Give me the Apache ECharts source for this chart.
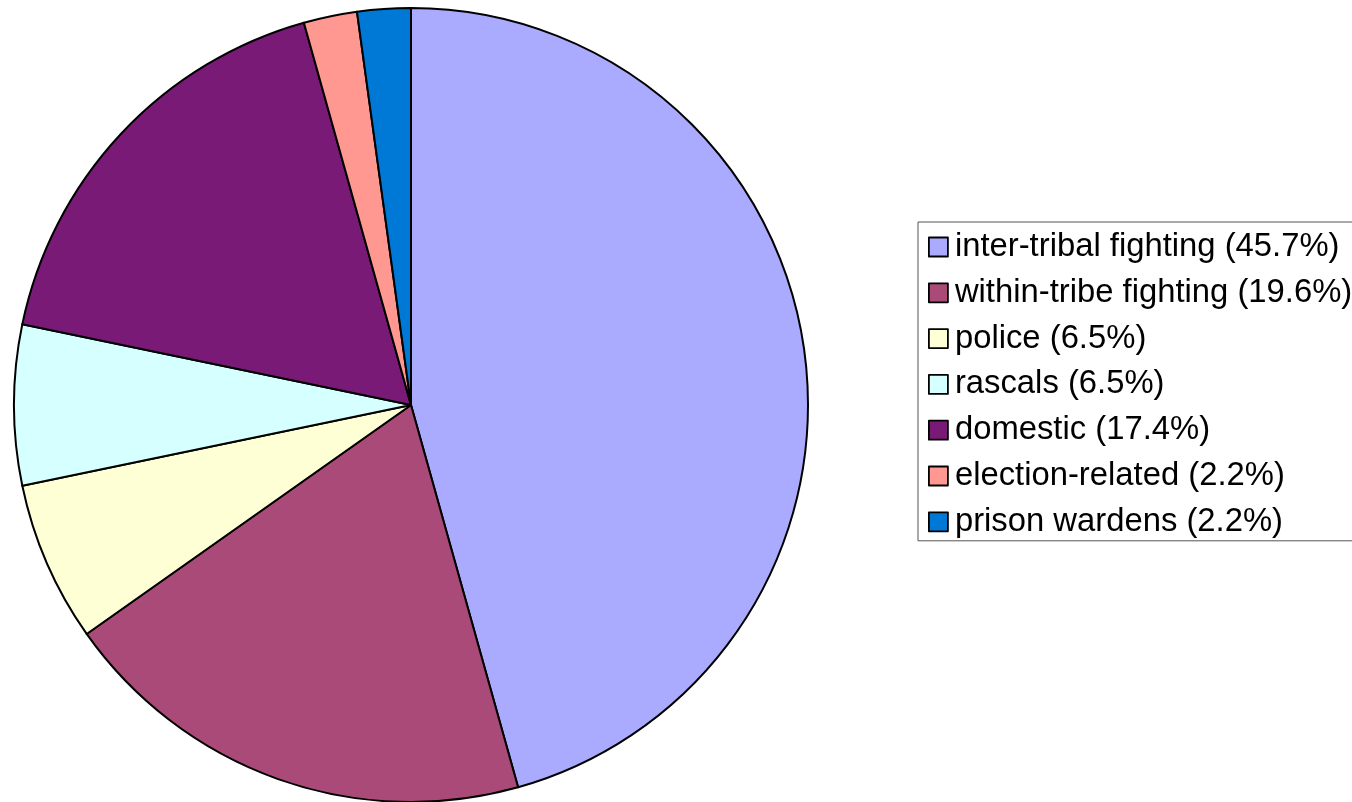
<!DOCTYPE html>
<html>
<head>
<meta charset="utf-8">
<script src="https://cdn.jsdelivr.net/npm/echarts@6/dist/echarts.min.js"></script>
<style>
  html, body { margin: 0; padding: 0; background: #ffffff; }
  #chart { width: 1352px; height: 802px; }
</style>
</head>
<body>
<div id="chart"></div>
<script>
// Causes of violent deaths (counts), clockwise from twelve o'clock
const categories = [
  'inter-tribal fighting',
  'within-tribe fighting',
  'police',
  'rascals',
  'domestic',
  'election-related',
  'prison wardens'
];
const counts = [21, 9, 3, 3, 8, 1, 1];
const colors = ['#AAABFF', '#A94A78', '#FFFFD6', '#D6FFFF', '#7A1A77', '#FF9891', '#0079D6'];

const total = counts.reduce((a, b) => a + b, 0);
const share = {};
categories.forEach((c, i) => { share[c] = (counts[i] / total * 100).toFixed(1); });

const chart = echarts.init(document.getElementById('chart'), null, { renderer: 'canvas' });
chart.setOption({
  animation: false,
  color: colors,
  legend: {
    orient: 'vertical',
    left: 918,
    top: 222,
    padding: [7, 12, 1, 10],
    borderColor: '#555555',
    borderWidth: 1,
    itemWidth: 19,
    itemHeight: 19,
    itemGap: 9.8,
    icon: 'rect',
    itemStyle: { borderColor: '#000000', borderWidth: 1.8 },
    textStyle: {
      fontFamily: '"Liberation Sans", Arial, sans-serif',
      fontSize: 32.8,
      lineHeight: 36,
      color: '#000000',
      padding: [0, 0, 0, 2]
    },
    formatter: name => name + ' (' + share[name] + '%)',
    data: categories
  },
  series: [{
    type: 'pie',
    center: [411, 405],
    radius: [0, 397],
    startAngle: 90,
    clockwise: true,
    label: { show: false },
    labelLine: { show: false },
    emphasis: { disabled: true },
    itemStyle: { borderColor: '#000000', borderWidth: 2 },
    data: categories.map((c, i) => ({ name: c, value: counts[i] }))
  }]
});
</script>
</body>
</html>
